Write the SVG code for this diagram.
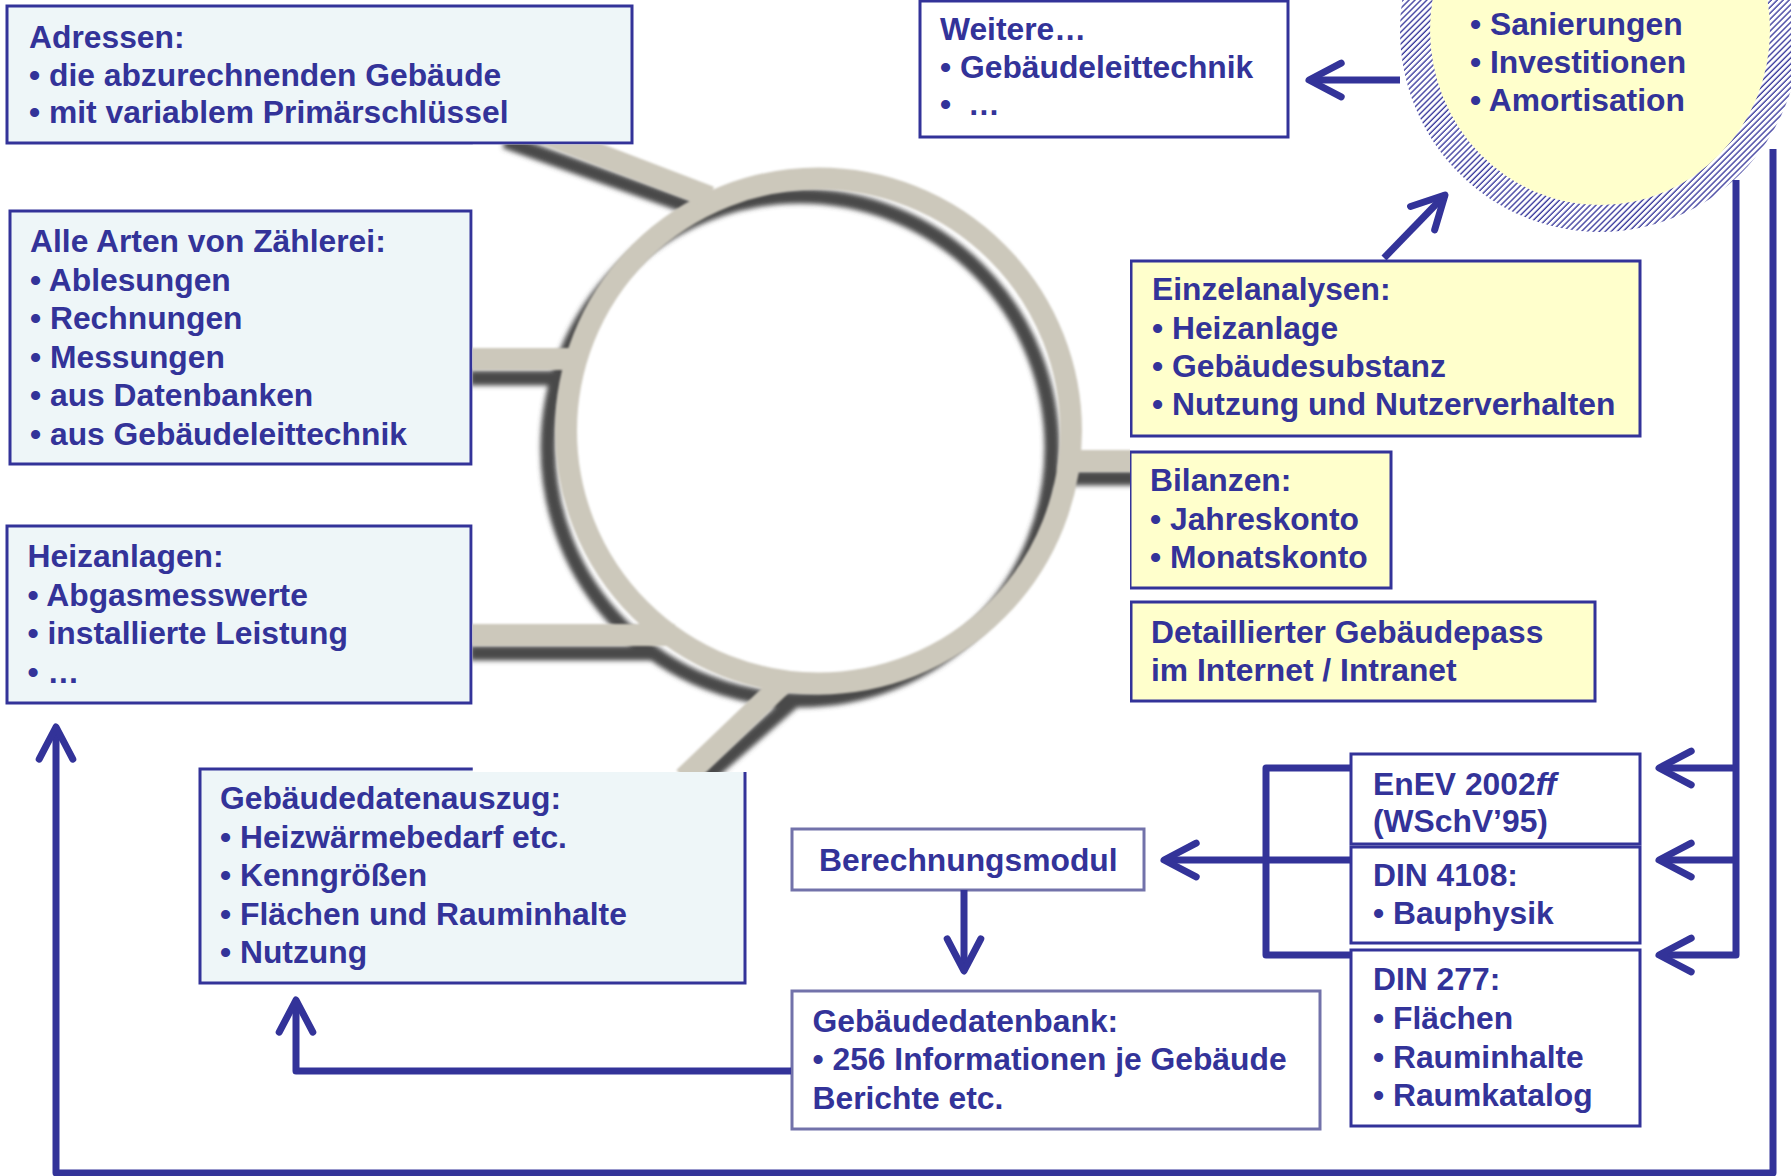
<svg xmlns="http://www.w3.org/2000/svg" width="1791" height="1176" viewBox="0 0 1791 1176">
<style>
.t{font-family:"Liberation Sans",Arial,Helvetica,sans-serif;font-weight:bold;font-size:31.8px;fill:#333399}
.bl{fill:#eef6f8;stroke:#333399;stroke-width:3}
.by{fill:#ffffcc;stroke:#333399;stroke-width:3}
.bw{fill:#ffffff;stroke:#333399;stroke-width:3}
.bg{fill:#ffffff;stroke:#7272aa;stroke-width:3}
.c{fill:none;stroke:#333399;stroke-width:7;stroke-linejoin:round;stroke-linecap:butt}
.sh{fill:none;stroke:#4a4a4a;stroke-width:15}
.be{fill:none;stroke:#ccc8bb;stroke-width:22}
</style>
<defs>
<marker id="ah" viewBox="-6 -4 8 8" refX="0" refY="0" markerWidth="8" markerHeight="8" orient="auto" markerUnits="strokeWidth" overflow="visible">
<path d="M-4.6,-2.4 L0,0 L-4.6,2.4" fill="none" stroke="#333399" stroke-width="1" stroke-linecap="round" stroke-linejoin="round"/>
</marker>
<pattern id="hatch" patternUnits="userSpaceOnUse" width="4.2" height="4.2" patternTransform="rotate(45)">
<rect width="4.2" height="4.2" fill="#ffffff"/>
<line x1="1" y1="0" x2="1" y2="4.2" stroke="#333399" stroke-width="1.3"/>
</pattern>
<filter id="blurS" filterUnits="userSpaceOnUse" x="440" y="100" width="720" height="700">
<feGaussianBlur stdDeviation="2.5"/>
</filter>
<filter id="blurB" filterUnits="userSpaceOnUse" x="440" y="100" width="720" height="700">
<feGaussianBlur stdDeviation="1.2"/>
</filter>
<clipPath id="ringClip">
<rect x="472.5" y="144.5" width="657.5" height="627.5"/>
</clipPath>
</defs>

<rect x="0" y="0" width="1791" height="1176" fill="#ffffff"/>

<g id="node-adressen">
<rect class="bl" x="7" y="6" width="625" height="137"/>
<text class="t" x="29" y="48">Adressen:</text>
<text class="t" x="29" y="85.5">• die abzurechnenden Gebäude</text>
<text class="t" x="29" y="123">• mit variablem Primärschlüssel</text>
</g>

<g id="node-zaehlerei">
<rect class="bl" x="10" y="211" width="461" height="253"/>
<text class="t" x="30" y="252">Alle Arten von Zählerei:</text>
<text class="t" x="30" y="290.5">• Ablesungen</text>
<text class="t" x="30" y="329">• Rechnungen</text>
<text class="t" x="30" y="367.5">• Messungen</text>
<text class="t" x="30" y="406">• aus Datenbanken</text>
<text class="t" x="30" y="444.5">• aus Gebäudeleittechnik</text>
</g>

<g id="node-heizanlagen">
<rect class="bl" x="7" y="526" width="464" height="177"/>
<text class="t" x="27.5" y="567">Heizanlagen:</text>
<text class="t" x="27.5" y="605.5">• Abgasmesswerte</text>
<text class="t" x="27.5" y="644">• installierte Leistung</text>
<text class="t" x="27.5" y="682.5">• …</text>
</g>

<g id="node-gebaeudedatenauszug">
<rect class="bl" x="200" y="769" width="545" height="214"/>
<text class="t" x="220" y="809">Gebäudedatenauszug:</text>
<text class="t" x="220" y="847.5">• Heizwärmebedarf etc.</text>
<text class="t" x="220" y="886">• Kenngrößen</text>
<text class="t" x="220" y="924.5">• Flächen und Rauminhalte</text>
<text class="t" x="220" y="963">• Nutzung</text>
</g>

<g id="node-weitere">
<rect class="bw" x="920" y="1" width="368" height="136"/>
<text class="t" x="940" y="40">Weitere…</text>
<text class="t" x="940" y="77.5">• Gebäudeleittechnik</text>
<text class="t" x="940" y="115">•<tspan x="968">…</tspan></text>
</g>

<g id="node-massnahmen">
<ellipse cx="1600" cy="30" rx="200" ry="202" fill="url(#hatch)"/>
<ellipse cx="1600" cy="30" rx="170" ry="175" fill="#ffffcc"/>
<text class="t" x="1470" y="35">• Sanierungen</text>
<text class="t" x="1470" y="73">• Investitionen</text>
<text class="t" x="1470" y="111">• Amortisation</text>
</g>

<g id="node-einzelanalysen">
<rect class="by" x="1131" y="261" width="509" height="175"/>
<text class="t" x="1152" y="300">Einzelanalysen:</text>
<text class="t" x="1152" y="338.5">• Heizanlage</text>
<text class="t" x="1152" y="377">• Gebäudesubstanz</text>
<text class="t" x="1152" y="415">• Nutzung und Nutzerverhalten</text>
</g>

<g id="node-bilanzen">
<rect class="by" x="1130" y="452" width="261" height="136"/>
<text class="t" x="1150" y="491">Bilanzen:</text>
<text class="t" x="1150" y="529.5">• Jahreskonto</text>
<text class="t" x="1150" y="568">• Monatskonto</text>
</g>

<g id="node-gebaeudepass">
<rect class="by" x="1131" y="602" width="464" height="99"/>
<text class="t" x="1151" y="643">Detaillierter Gebäudepass</text>
<text class="t" x="1151" y="681">im Internet / Intranet</text>
</g>

<g id="node-berechnungsmodul">
<rect class="bg" x="792" y="829" width="352" height="61"/>
<text class="t" x="819" y="870.5">Berechnungsmodul</text>
</g>

<g id="node-gebaeudedatenbank">
<rect class="bg" x="792" y="991" width="528" height="138"/>
<text class="t" x="812.5" y="1031.5">Gebäudedatenbank:</text>
<text class="t" x="812.5" y="1070">• 256 Informationen je Gebäude</text>
<text class="t" x="812.5" y="1108.5">Berichte etc.</text>
</g>

<g id="node-enev">
<rect class="bw" x="1351" y="754" width="289" height="90"/>
<text class="t" x="1373" y="794.5">EnEV 2002<tspan font-style="italic">ff</tspan></text>
<text class="t" x="1373" y="832">(WSchV’95)</text>
</g>

<g id="node-din4108">
<rect class="bw" x="1351" y="847" width="289" height="96"/>
<text class="t" x="1373" y="886">DIN 4108:</text>
<text class="t" x="1373" y="923.5">• Bauphysik</text>
</g>

<g id="node-din277">
<rect class="bw" x="1351" y="950" width="289" height="176"/>
<text class="t" x="1373" y="990">DIN 277:</text>
<text class="t" x="1373" y="1029">• Flächen</text>
<text class="t" x="1373" y="1067.5">• Rauminhalte</text>
<text class="t" x="1373" y="1106">• Raumkatalog</text>
</g>

<g id="node-ring" clip-path="url(#ringClip)">
<rect x="472.5" y="144.5" width="657.5" height="627.5" fill="#ffffff"/>
<g filter="url(#blurS)">
<circle class="sh" cx="800" cy="448" r="252"/>
<line class="sh" x1="505" y1="141" x2="692" y2="208"/>
<line class="sh" x1="470" y1="378" x2="558" y2="378"/>
<line class="sh" x1="470" y1="653" x2="655" y2="653"/>
<line class="sh" x1="703" y1="780" x2="792" y2="702"/>
<line class="sh" x1="1050" y1="478" x2="1135" y2="478"/>
</g>
<g filter="url(#blurB)">
<circle class="be" cx="818.5" cy="431" r="252.5"/>
<line class="be" x1="540" y1="132" x2="710" y2="197"/>
<line class="be" x1="470" y1="359" x2="578" y2="359"/>
<line class="be" x1="470" y1="635" x2="675" y2="635"/>
<line class="be" x1="684" y1="778" x2="782" y2="684"/>
<line class="be" x1="1066" y1="461" x2="1135" y2="461"/>
</g>
</g>

<g id="connectors">
<path class="c" d="M1400,80 H1309" marker-end="url(#ah)"/>
<path class="c" d="M1384,258 L1445,195" marker-end="url(#ah)"/>
<path class="c" d="M1352,768 H1266 V955 H1352"/>
<path class="c" d="M1352,860 H1164" marker-end="url(#ah)"/>
<path class="c" d="M964,890 V971" marker-end="url(#ah)"/>
<path class="c" d="M791,1071 H296 V1000" marker-end="url(#ah)"/>
<path class="c" d="M1773,149 V1173 H56 V727" marker-end="url(#ah)"/>
<path class="c" d="M1736,180 V955 H1659" marker-end="url(#ah)"/>
<path class="c" d="M1736,768 H1659" marker-end="url(#ah)"/>
<path class="c" d="M1736,860 H1659" marker-end="url(#ah)"/>
</g>
</svg>
